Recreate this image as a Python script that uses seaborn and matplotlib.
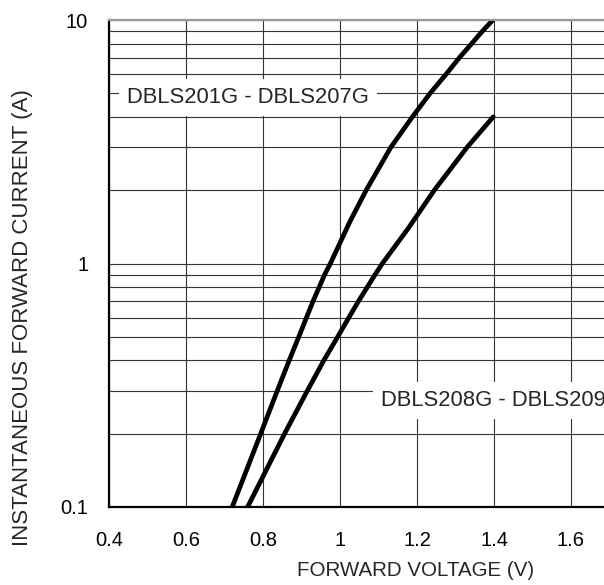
import pandas as pd
import matplotlib
matplotlib.use("Agg")
import matplotlib.pyplot as plt
import seaborn as sns
from matplotlib.ticker import LogLocator, FixedLocator, FixedFormatter, NullFormatter

# curve data (forward voltage V, current A)
v_201_207 = [0.720, 0.794, 0.837, 0.868, 0.893, 0.913, 0.930, 0.946, 0.960, 0.975,
             1.027, 1.068, 1.132, 1.188, 1.234, 1.276, 1.310, 1.342, 1.370, 1.397]
i_201_207 = [0.1, 0.2, 0.3, 0.4, 0.5, 0.6, 0.7, 0.8, 0.9, 1.0,
             1.5, 2, 3, 4, 5, 6, 7, 8, 9, 10]
v_208_209 = [0.760, 0.856, 0.915, 0.958, 0.994, 1.023, 1.048, 1.071, 1.091, 1.110,
             1.178, 1.245, 1.330, 1.398]
i_208_209 = [0.1, 0.2, 0.3, 0.4, 0.5, 0.6, 0.7, 0.8, 0.9, 1.0,
             1.4, 2, 3, 4]

x_ticks = [0.4, 0.6, 0.8, 1.0, 1.2, 1.4, 1.6]
x_tick_labels = ["0.4", "0.6", "0.8", "1", "1.2", "1.4", "1.6"]
y_ticks = [0.1, 1, 10]
y_tick_labels = ["0.1", "1", "10"]

label_a = "DBLS201G - DBLS207G"
label_b = "DBLS208G - DBLS209G"

sns.set_style("white")
plt.rcParams["font.family"] = ["Liberation Sans", "DejaVu Sans"]

df_a = pd.DataFrame({"V": v_201_207, "I": i_201_207})
df_b = pd.DataFrame({"V": v_208_209, "I": i_208_209})

fig = plt.figure(figsize=(6.04, 5.85), dpi=100)
ax = fig.add_axes([109 / 604, 78 / 585, 539 / 604, 487 / 585])

ax.set_yscale("log")
ax.set_xlim(0.4, 1.8)
ax.set_ylim(0.1, 10)

# grid lines
grid_col = "#333333"
ax.xaxis.set_major_locator(FixedLocator(x_ticks))
ax.xaxis.set_major_formatter(FixedFormatter(x_tick_labels))
ax.yaxis.set_major_locator(FixedLocator(y_ticks))
ax.yaxis.set_major_formatter(FixedFormatter(y_tick_labels))
ax.yaxis.set_minor_locator(LogLocator(base=10, subs=range(2, 10)))
ax.yaxis.set_minor_formatter(NullFormatter())
ax.grid(True, which="major", axis="x", color=grid_col, lw=0.8)
ax.grid(True, which="both", axis="y", color=grid_col, lw=0.8)
ax.set_axisbelow(True)

sns.lineplot(data=df_a, x="V", y="I", sort=False, estimator=None,
             color="black", lw=3.4, ax=ax)
sns.lineplot(data=df_b, x="V", y="I", sort=False, estimator=None,
             color="black", lw=3.4, ax=ax)

box = dict(boxstyle="square,pad=0.35", fc="white", ec="none")
ax.text(0.447, 4.56, label_a, fontsize=15.8, va="baseline", ha="left",
        bbox=box, zorder=5)
ax.text(1.1065, 0.26, label_b, fontsize=15.8, va="baseline", ha="left",
        bbox=box, zorder=5)

for s in ["left", "bottom"]:
    ax.spines[s].set_color("black")
    ax.spines[s].set_linewidth(1.6)
ax.spines["top"].set_color("#999999")
ax.spines["top"].set_linewidth(1.6)
ax.spines["right"].set_visible(False)

ax.tick_params(axis="both", which="major", direction="in", length=5,
               width=1.2, labelsize=14.5, colors="black", pad=15)
ax.tick_params(axis="y", which="minor", length=0)
ax.tick_params(axis="x", pad=17)

ax.set_xlabel("FORWARD VOLTAGE (V)", fontsize=14.8, va="center")
ax.set_ylabel("INSTANTANEOUS FORWARD CURRENT (A)", fontsize=16, va="center")
ax.xaxis.set_label_coords((416 - 109) / 539, (507 - 570) / 487)
ax.yaxis.set_label_coords((23 - 109) / 539, (507 - 318) / 487)

fig.savefig("out.png", dpi=100)
